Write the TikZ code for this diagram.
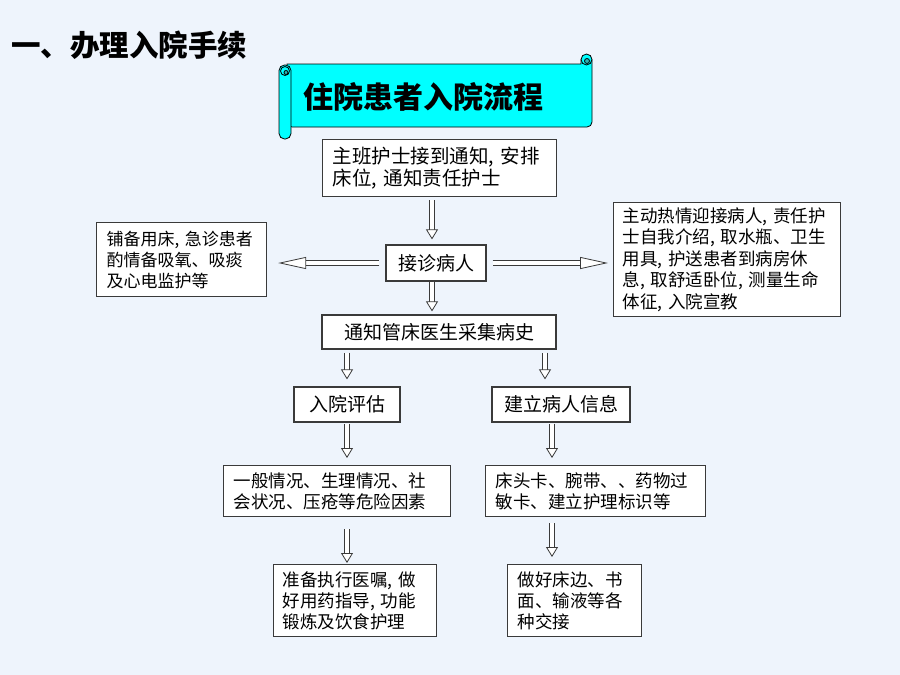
\documentclass[tikz,border=0pt]{standalone}
\usepackage{fontspec}
\setmainfont{Noto Sans CJK SC}
\usetikzlibrary{arrows.meta,positioning}
\definecolor{bgblue}{HTML}{EEF4FC}
\definecolor{scrollcyan}{HTML}{00FFFF}
\definecolor{scrolldark}{HTML}{2DB3B3}
\definecolor{boxline}{HTML}{3A3A3A}

\begin{document}
\begin{tikzpicture}[x=1pt,y=-1pt,
   every node/.style={inner sep=0pt},
   box/.style={draw=boxline,fill=white,line width=1.2pt},
   textbox/.style={box,anchor=north west,align=left,inner xsep=10pt,
      font=\fontsize{17.5}{21.5}\selectfont},
   shortbox/.style={box,minimum height=35pt,font=\fontsize{19}{22}\selectfont},
   vhollow/.style={draw=boxline,line width=0.8pt,double=white,double distance=4pt,
      -{Triangle[length=10pt,width=12pt,fill=white]}},
   hhollow/.style={vhollow,-{Triangle[length=28pt,width=12pt,fill=white]}}]
\fill[bgblue] (0,0) rectangle (900,675);
\useasboundingbox (0,0) rectangle (900,675);

\node[anchor=west,font=\fontsize{29.5}{31}\selectfont\bfseries] (heading) at (11,45) {一、办理入院手续};

\begin{scope}[draw=black,line width=0.8pt]
\filldraw[fill=scrollcyan] (592,60) [rounded corners=5pt] -- (592,127) -- (287,127)
   [sharp corners] -- (287,64) -- (581,64) -- (581,60) -- cycle;
\filldraw[fill=scrollcyan] (586.5,59.5) circle[radius=5.5pt];
\filldraw[fill=scrolldark] (587,61) circle[radius=2.5pt];
\filldraw[fill=scrollcyan,rounded corners=5.5pt] (279,65) rectangle (291,139);
\filldraw[fill=scrollcyan] (285,71) circle[radius=4.5pt];
\filldraw[fill=scrolldark] (286,72.5) circle[radius=2pt];
\end{scope}
\node[font=\fontsize{30}{32}\selectfont\bfseries] (banner) at (423,97) {住院患者入院流程};

\node[textbox,text width=214pt,minimum height=57pt,font=\fontsize{19.5}{22}\selectfont]
   (notice) at (322,139) {主班护士接到通知, 安排\\床位, 通知责任护士};
\node[shortbox,minimum width=100pt,minimum height=36pt] (receive) at (436,263) {接诊病人};
\node[textbox,text width=150pt,minimum height=74pt,font=\fontsize{17}{21}\selectfont]
   (prepbed) at (96,222) {铺备用床, 急诊患者\\酌情备吸氧、吸痰\\及心电监护等};
\node[textbox,text width=209pt,inner xsep=9pt,minimum height=114pt]
   (welcome) at (613,202) {主动热情迎接病人, 责任护\\士自我介绍, 取水瓶、卫生\\用具, 护送患者到病房休\\息, 取舒适卧位, 测量生命\\体征, 入院宣教};
\node[shortbox,minimum width=234pt,minimum height=34pt] (doctor) at (439,332) {通知管床医生采集病史};
\node[shortbox,minimum width=106pt] (assess) at (347,404.5) {入院评估};
\node[shortbox,minimum width=138pt] (record) at (561,404.5) {建立病人信息};
\node[textbox,text width=207pt,minimum height=51pt,font=\fontsize{17.5}{21}\selectfont]
   (factors) at (223,465) {一般情况、生理情况、社\\会状况、压疮等危险因素};
\node[textbox,text width=200pt,minimum height=51pt,font=\fontsize{17.5}{21}\selectfont]
   (cards) at (485,465) {床头卡、腕带、、药物过\\敏卡、建立护理标识等};
\node[textbox,text width=145pt,inner xsep=9pt,minimum height=72pt,font=\fontsize{17.5}{21}\selectfont]
   (orders) at (273,564) {准备执行医嘱, 做\\好用药指导, 功能\\锻炼及饮食护理};
\node[textbox,text width=114pt,minimum height=72pt,font=\fontsize{17.5}{21}\selectfont]
   (handover) at (507,564) {做好床边、书\\面、输液等各\\种交接};

\draw[vhollow,shorten <=3pt,shorten >=5pt] ([xshift=-4pt]receive.north |- notice.south) -- ([xshift=-4pt]receive.north);
\draw[hhollow,shorten <=6pt,shorten >=11pt] (receive.west) -- (receive.west -| prepbed.east);
\draw[hhollow,shorten <=6pt,shorten >=5pt] (receive.east) -- (receive.east -| welcome.west);
\draw[vhollow,shorten >=3pt] ([xshift=-4pt]receive.south) -- ([xshift=-4pt]receive.south |- doctor.north);
\draw[vhollow,shorten <=3pt,shorten >=7pt] (assess.north |- doctor.south) -- (assess.north);
\draw[vhollow,shorten <=3pt,shorten >=7pt] ([xshift=-16pt]record.north |- doctor.south) -- ([xshift=-16pt]record.north);
\draw[vhollow,shorten <=1pt,shorten >=7pt] (assess.south) -- (assess.south |- factors.north);
\draw[vhollow,shorten <=1pt,shorten >=7pt] ([xshift=-9pt]record.south) -- ([xshift=-9pt]record.south |- cards.north);
\draw[vhollow,shorten <=12pt,shorten >=1pt] (assess.south |- factors.south) -- (assess.south |- orders.north);
\draw[vhollow,shorten <=6pt,shorten >=7pt] ([xshift=-9pt]record.south |- cards.south) -- ([xshift=-9pt]record.south |- handover.north);
\end{tikzpicture}
\end{document}
